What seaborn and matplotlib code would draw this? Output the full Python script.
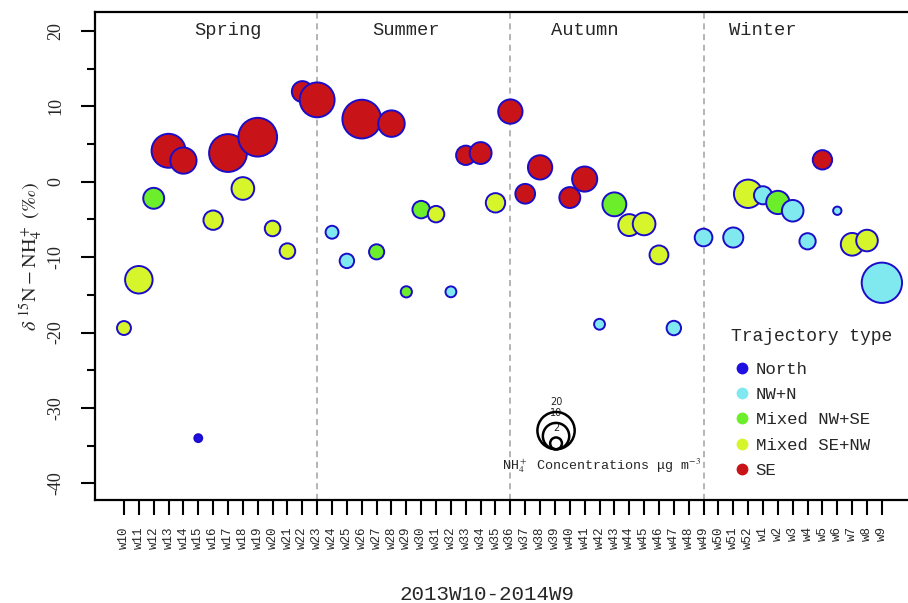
import numpy as np
import pandas as pd
import matplotlib
matplotlib.use('Agg')
import matplotlib.pyplot as plt
import matplotlib.transforms as mtransforms
from matplotlib.lines import Line2D
import seaborn as sns

# all weeks on the x axis, 2013W10 - 2014W9
weeks = ['w10', 'w11', 'w12', 'w13', 'w14', 'w15', 'w16', 'w17', 'w18', 'w19',
         'w20', 'w21', 'w22', 'w23', 'w24', 'w25', 'w26', 'w27', 'w28', 'w29',
         'w30', 'w31', 'w32', 'w33', 'w34', 'w35', 'w36', 'w37', 'w38', 'w39',
         'w40', 'w41', 'w42', 'w43', 'w44', 'w45', 'w46', 'w47', 'w48', 'w49',
         'w50', 'w51', 'w52', 'w1', 'w2', 'w3', 'w4', 'w5', 'w6', 'w7', 'w8', 'w9']

# weeks with a sample
sample_week = ['w10', 'w11', 'w12', 'w13', 'w14', 'w15', 'w16', 'w17', 'w18', 'w19',
               'w20', 'w21', 'w22', 'w23', 'w24', 'w25', 'w26', 'w27', 'w28', 'w29',
               'w30', 'w31', 'w32', 'w33', 'w34', 'w35', 'w36', 'w37', 'w38', 'w40',
               'w41', 'w42', 'w43', 'w44', 'w45', 'w46', 'w47', 'w49', 'w51', 'w52',
               'w1', 'w2', 'w3', 'w4', 'w5', 'w6', 'w7', 'w8', 'w9']

d15n = [-19.4, -13.0, -2.2, 4.1, 2.8, -34.0, -5.1, 3.8, -0.9, 5.9,
        -6.2, -9.2, 11.95, 10.85, -6.7, -10.5, 8.3, -9.3, 7.7, -14.6,
        -3.7, -4.3, -14.6, 3.5, 3.8, -2.8, 9.3, -1.6, 1.9, -2.1,
        0.35, -18.9, -3.0, -5.75, -5.6, -9.7, -19.4, -7.4, -7.4, -1.6,
        -1.8, -2.75, -3.85, -7.9, 2.9, -3.85, -8.3, -7.8, -13.4]

nh4_conc = [2.8, 10.9, 6.3, 16.6, 9.9, 0.9, 5.4, 20.6, 7.4, 21.6,
            3.5, 3.5, 6.3, 17.5, 2.4, 3.0, 21.6, 3.3, 10.1, 1.8,
            4.4, 3.9, 1.7, 5.4, 6.9, 5.4, 8.5, 5.6, 8.5, 6.3,
            9.1, 1.7, 8.2, 6.9, 7.4, 5.1, 3.0, 4.5, 5.8, 11.6,
            4.7, 7.8, 6.7, 3.8, 5.4, 1.0, 7.4, 6.7, 23.4]

trajectory = ['Mixed SE+NW', 'Mixed SE+NW', 'Mixed NW+SE', 'SE', 'SE', 'North', 'Mixed SE+NW', 'SE', 'Mixed SE+NW', 'SE',
              'Mixed SE+NW', 'Mixed SE+NW', 'SE', 'SE', 'NW+N', 'NW+N', 'SE', 'Mixed NW+SE', 'SE', 'Mixed NW+SE',
              'Mixed NW+SE', 'Mixed SE+NW', 'NW+N', 'SE', 'SE', 'Mixed SE+NW', 'SE', 'SE', 'SE', 'SE',
              'SE', 'NW+N', 'Mixed NW+SE', 'Mixed SE+NW', 'Mixed SE+NW', 'Mixed SE+NW', 'NW+N', 'NW+N', 'NW+N', 'Mixed SE+NW',
              'NW+N', 'Mixed NW+SE', 'NW+N', 'NW+N', 'SE', 'NW+N', 'Mixed SE+NW', 'Mixed SE+NW', 'NW+N']

traj_order = ['North', 'NW+N', 'Mixed NW+SE', 'Mixed SE+NW', 'SE']
traj_colors = ['#1e10e0', '#80e9f0', '#6cee2a', '#d6f52b', '#c81418']

seasons = ['Spring', 'Summer', 'Autumn', 'Winter']
season_breaks = ['w23', 'w36', 'w49']
legend_conc = [20, 10, 2]

df = pd.DataFrame({'week': sample_week, 'd15n': d15n, 'conc': nh4_conc, 'traj': trajectory})
df['pos'] = [weeks.index(w) for w in df['week']]
palette = dict(zip(traj_order, traj_colors))

sns.set_theme(style='ticks')
plt.rcParams['font.family'] = ['Liberation Mono', 'DejaVu Sans']
plt.rcParams['mathtext.fontset'] = 'stix'

fig = plt.figure(figsize=(9.08, 6.03), dpi=100)
ax = fig.add_axes([95 / 908, 103 / 603, 816 / 908, 488 / 603])

size_k = 36  # marker area (pt^2) per ug/m3
sns.scatterplot(data=df, x='pos', y='d15n', hue='traj', hue_order=traj_order,
                palette=palette, size='conc', sizes=(0, size_k * 25), size_norm=(0, 25),
                edgecolor='#1a0cc8', linewidth=1.4, alpha=1, legend=False, ax=ax, zorder=3)

for w in season_breaks:
    ax.axvline(weeks.index(w), color='#a0a0a0', ls=(0, (4, 3)), lw=1.1, zorder=1)

for i, s in enumerate(seasons):
    ax.text(7 + 12 * i, 20, s, ha='center', va='center', fontsize=13.5)

ax.set_xlim(-1.95, 52.96)
ax.set_ylim(-42.2, 22.5)
ax.set_xticks(range(len(weeks)))
ax.set_xticklabels(weeks, rotation=90, fontsize=9)
ax.set_yticks(np.arange(-40, 21, 10))
ax.set_yticks(np.arange(-35, 20, 10), minor=True)
ax.set_yticklabels([str(v) for v in range(-40, 21, 10)], rotation=90, va='center',
                   fontsize=13, family='Liberation Serif')
ax.tick_params(axis='y', which='major', length=10, width=1.5, pad=12, color='black')
ax.tick_params(axis='y', which='minor', length=6, width=1.5, color='black', left=True)
ax.tick_params(axis='x', length=11, width=1.5, pad=8, color='black')

for side in ['left', 'top', 'bottom']:
    ax.spines[side].set_linewidth(1.6)
    ax.spines[side].set_color('black')
ax.spines['right'].set_visible(False)

ax.set_xlabel('2013W10-2014W9', fontsize=15)
ax.xaxis.set_label_coords(0.48, -0.174)
ax.set_ylabel(r'$\delta\ ^{15}\mathrm{N-NH}_4^+\ (‰)$', fontsize=14.5, labelpad=2)

# trajectory legend
handles = [Line2D([], [], marker='o', ls='', markersize=8.5, markerfacecolor=palette[k],
                  markeredgewidth=0, label=k) for k in traj_order]
leg = ax.legend(handles=handles, title='Trajectory type', loc='upper left',
                bbox_to_anchor=(0.780, 0.352), frameon=False, fontsize=12.5,
                title_fontsize=13, borderpad=0, borderaxespad=0, handletextpad=0.2,
                labelspacing=0.58, handlelength=1.2)
leg._legend_box.align = 'left'
leg._legend_box.sep = 12

# concentration size legend
x0, y0 = 0.565, 0.104
for c in legend_conc:
    d = np.sqrt(size_k * c)
    off = mtransforms.ScaledTranslation(0, d / 2 / 72, fig.dpi_scale_trans)
    ax.scatter([x0], [y0], s=size_k * c, facecolors='none', edgecolors='black',
               linewidths=1.8, transform=ax.transAxes + off, zorder=4)
    ax.annotate(str(c), xy=(x0, y0), xycoords='axes fraction', xytext=(0, d + 3.5),
                textcoords='offset points', ha='center', va='bottom', fontsize=7,
                family='DejaVu Sans')
ax.text(0.499, 0.07, r'NH$_4^+$ Concentrations μg m$^{-3}$', transform=ax.transAxes,
        ha='left', va='center', fontsize=9.6)

fig.savefig('out.png', dpi=100)
